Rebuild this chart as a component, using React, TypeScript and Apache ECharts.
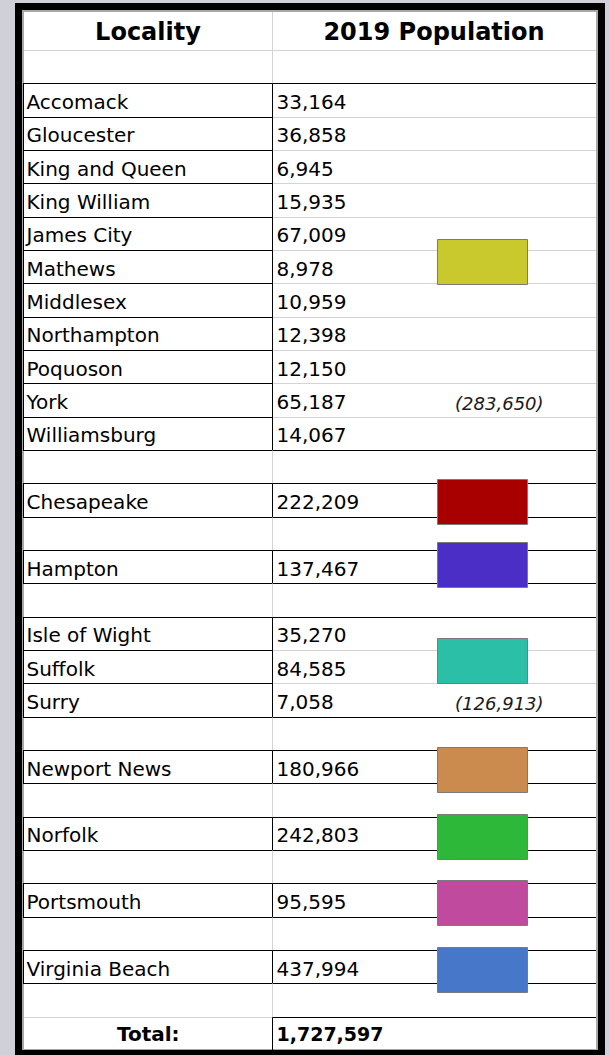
import { useEffect, useRef } from "react";
import * as echarts from "echarts";

// ---- data ----
const headers = ["Locality", "2019 Population"];
const localities = [
  "Accomack", "Gloucester", "King and Queen", "King William", "James City",
  "Mathews", "Middlesex", "Northampton", "Poquoson", "York", "Williamsburg",
  "Chesapeake", "Hampton", "Isle of Wight", "Suffolk", "Surry",
  "Newport News", "Norfolk", "Portsmouth", "Virginia Beach",
];
const population2019 = [
  33164, 36858, 6945, 15935, 67009, 8978, 10959, 12398, 12150, 65187, 14067,
  222209, 137467, 35270, 84585, 7058, 180966, 242803, 95595, 437994,
];
const groupSizes = [11, 1, 1, 3, 1, 1, 1, 1];
const totalLabel = "Total:";

// ---- styles / layout ----
const groupColors = ["#c9c92d", "#a80000", "#4b2ec5", "#2cbfa8", "#cb8a4e", "#2eb83a", "#c04a9e", "#4677c9"];
const subtotalRowInGroup = [9, -1, -1, 2, -1, -1, -1, -1];
const boxOffsetPx = [-5, 1, -2, -6, 3, 3, 2, 3];
const FONT = "DejaVu Sans";
const COL_SPLIT = 0.4336;
const BOX_X0 = 0.722;
const BOX_X1 = 0.88;
const LABEL_X = 0.831;
const GRAY = "#d4d4d4";
const BLACK = "#000000";

type Row = {
  kind: "blank" | "item" | "total";
  name?: string;
  value?: number;
  group?: number;
  pos?: number;
  size?: number;
};

const rows: Row[] = [{ kind: "blank" }];
const groupTotals: number[] = [];
{
  let k = 0;
  groupSizes.forEach((size, g) => {
    let s = 0;
    for (let i = 0; i < size; i++) {
      rows.push({ kind: "item", name: localities[k], value: population2019[k], group: g, pos: i, size });
      s += population2019[k];
      k++;
    }
    groupTotals.push(s);
    rows.push({ kind: "blank" });
  });
  rows.push({ kind: "total" });
}
const grandTotal = population2019.reduce((a, b) => a + b, 0);
const fmt = (n: number) => n.toLocaleString("en-US");

const snap = (v: number) => Math.round(v) + 0.5;

export default function App() {
  const ref = useRef<HTMLDivElement>(null);
  useEffect(() => {
    if (!ref.current) return;
    const chart = echarts.init(ref.current, undefined, { renderer: "svg" });
    const line = (xa: number, ya: number, xb: number, yb: number, color: string, w = 1) => ({
      type: "line",
      shape: { x1: xa, y1: ya, x2: xb, y2: yb },
      style: { stroke: color, lineWidth: w },
      silent: true,
    });
    const option: any = {
      animation: false,
      backgroundColor: "#d0d0d8",
      grid: { left: 24, right: 13, top: 50, bottom: 5 },
      xAxis: { type: "value", min: 0, max: 1, show: false },
      yAxis: {
        type: "category",
        inverse: true,
        show: false,
        data: rows.map((_, i) => String(i)),
      },
      graphic: [
        { type: "rect", z: 0, shape: { x: 15, y: 3, width: 590, height: 1060 }, style: { fill: BLACK } },
        { type: "rect", z: 0, shape: { x: 22, y: 10, width: 576, height: 1040 }, style: { fill: "#a8a8a8" } },
        { type: "rect", z: 0, shape: { x: 24, y: 12, width: 572, height: 1037 }, style: { fill: "#ffffff" } },
        { type: "line", z: 1, shape: { x1: 272.5, y1: 12, x2: 272.5, y2: 50 }, style: { stroke: GRAY, lineWidth: 1 } },
        { type: "line", z: 1, shape: { x1: 24, y1: 50.5, x2: 596, y2: 50.5 }, style: { stroke: GRAY, lineWidth: 1 } },
        {
          type: "text", z: 3, x: 148, y: 32,
          style: { text: headers[0], fill: BLACK, font: `bold 24px "${FONT}"`, align: "center", verticalAlign: "middle" },
        },
        {
          type: "text", z: 3, x: 434, y: 32,
          style: { text: headers[1], fill: BLACK, font: `bold 24px "${FONT}"`, align: "center", verticalAlign: "middle" },
        },
      ],
      series: [
        {
          type: "custom",
          coordinateSystem: "cartesian2d",
          data: rows.map((_, i) => [0, i]),
          encode: { x: 0, y: 1 },
          renderItem: (params: any, api: any) => {
            const r = params.dataIndex;
            const row = rows[r];
            const c = api.coord([0, r]);
            const h = api.size([0, 1])[1];
            const yc = c[1];
            const top = snap(yc - h / 2);
            const bot = snap(yc + h / 2);
            const x0 = api.coord([0, r])[0];
            const x1 = api.coord([1, r])[0];
            const xd = snap(api.coord([COL_SPLIT, r])[0]);
            const kids: any[] = [];
            if (r < rows.length - 1) kids.push(line(x0, bot, x1, bot, GRAY));
            if (row.kind === "blank") {
              kids.push(line(xd, top, xd, bot, GRAY));
            } else if (row.kind === "item") {
              const g = row.group as number;
              const pos = row.pos as number;
              const size = row.size as number;
              kids.push(line(x0 - 0.5, top, x0 - 0.5, bot, BLACK));
              kids.push(line(xd, top, xd, bot, BLACK));
              kids.push(line(x0 - 1, top, xd, top, BLACK));
              kids.push(line(x0 - 1, bot, xd, bot, BLACK));
              if (pos === 0) kids.push(line(xd, top, x1, top, BLACK));
              if (pos === size - 1) kids.push(line(xd, bot, x1, bot, BLACK));
              kids.push({
                type: "text", x: x0 + 2.5, y: yc + 2,
                style: { text: row.name, fill: BLACK, font: `20px "${FONT}"`, align: "left", verticalAlign: "middle" },
              });
              kids.push({
                type: "text", x: xd + 4, y: yc + 2,
                style: { text: fmt(row.value as number), fill: BLACK, font: `20px "${FONT}"`, align: "left", verticalAlign: "middle" },
              });
              if (pos === Math.floor(size / 2)) {
                const bx0 = snap(api.coord([BOX_X0, r])[0]);
                const bx1 = snap(api.coord([BOX_X1, r])[0]);
                const bh = h * 1.35;
                const by = Math.round(yc + boxOffsetPx[g] - bh / 2) + 0.5;
                kids.push({
                  type: "rect",
                  shape: { x: bx0, y: by, width: bx1 - bx0, height: Math.round(bh) },
                  style: { fill: groupColors[g], stroke: "#7a7a7a", lineWidth: 1 },
                });
              }
              if (pos === subtotalRowInGroup[g]) {
                kids.push({
                  type: "text", x: api.coord([LABEL_X, r])[0], y: yc + 3,
                  style: {
                    text: `(${fmt(groupTotals[g])})`, fill: "#1a1a1a",
                    font: `italic 18px "${FONT}"`, align: "center", verticalAlign: "middle",
                  },
                });
              }
            } else {
              kids.push(line(xd, top, x1, top, BLACK));
              kids.push(line(xd, top, xd, bot, BLACK));
              kids.push({
                type: "text", x: (x0 + xd) / 2, y: yc + 1,
                style: { text: totalLabel, fill: BLACK, font: `bold 20px "${FONT}"`, align: "center", verticalAlign: "middle" },
              });
              kids.push({
                type: "text", x: xd + 4, y: yc + 1,
                style: { text: fmt(grandTotal), fill: BLACK, font: `bold 19px "${FONT}"`, align: "left", verticalAlign: "middle" },
              });
            }
            return { type: "group", children: kids };
          },
        },
      ],
    };
    chart.setOption(option);
    return () => chart.dispose();
  }, []);
  return <div ref={ref} style={{ position: "absolute", left: 0, top: 0, width: 609, height: 1055 }} />;
}
